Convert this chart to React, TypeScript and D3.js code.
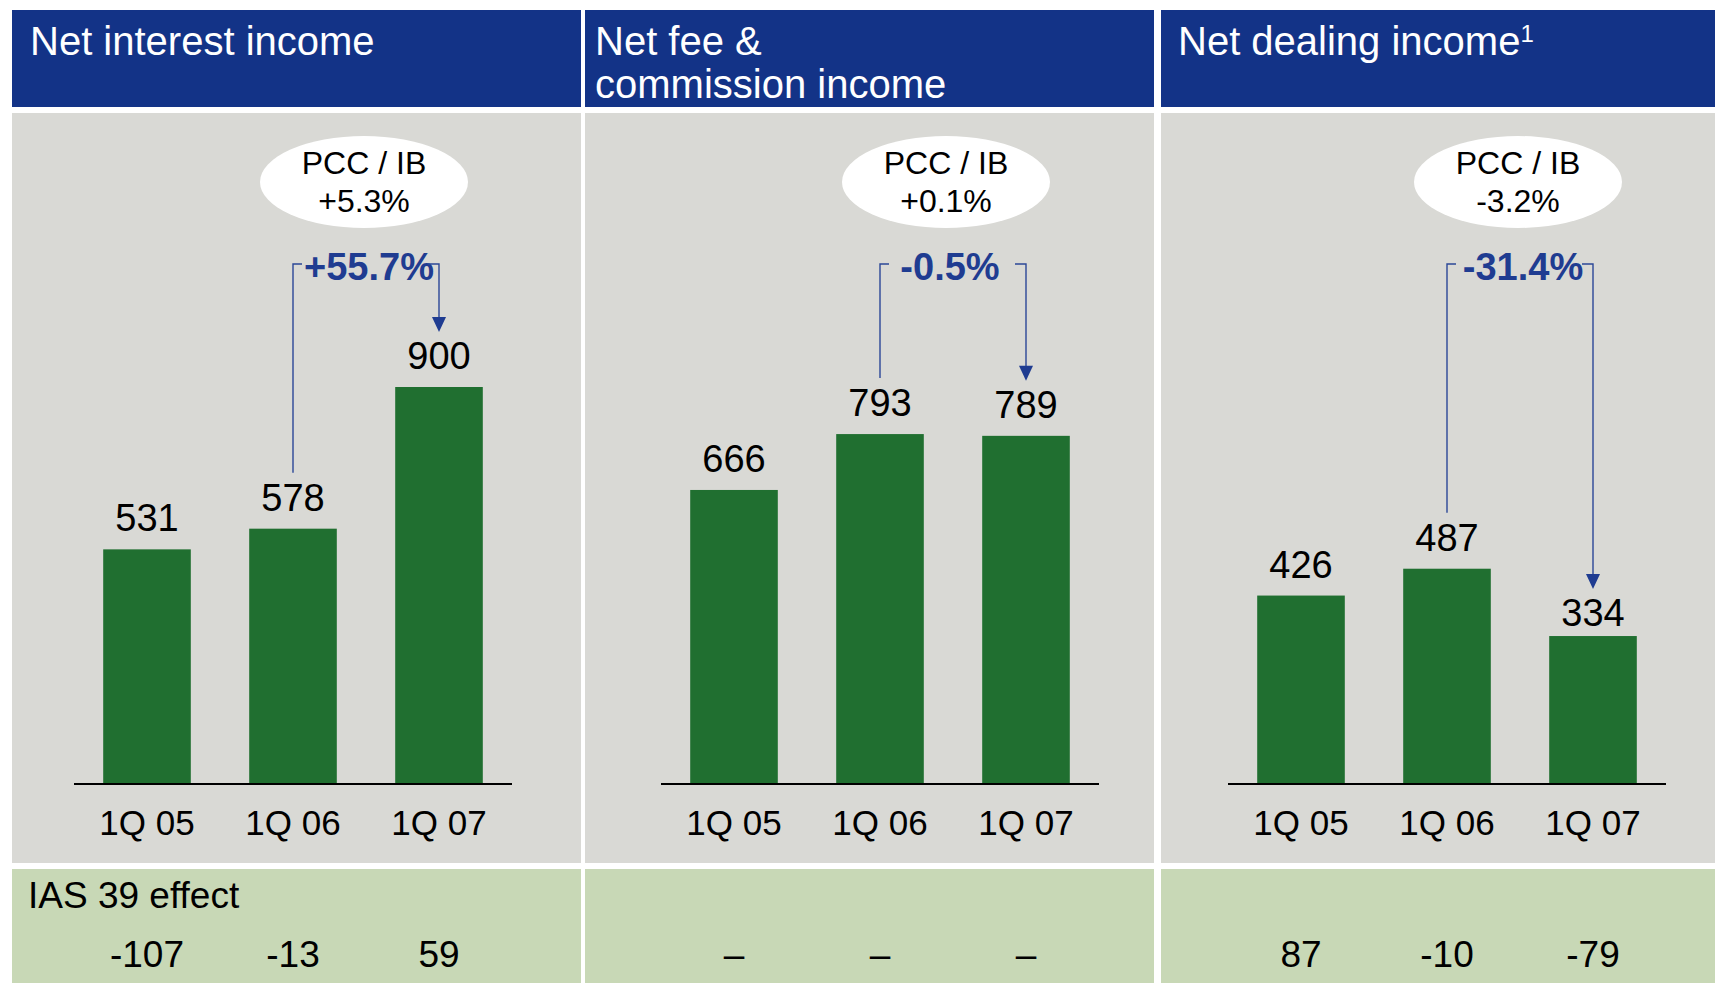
import React from "react";
import * as d3 from "d3";

// ---------- data ----------
const categories = ["1Q 05", "1Q 06", "1Q 07"];
const netInterestIncome = [531, 578, 900];
const netFeeCommissionIncome = [666, 793, 789];
const netDealingIncome = [426, 487, 334];
const panelTitles = [["Net interest income"], ["Net fee &", "commission income"], ["Net dealing income"]];
const titleFootnotes = ["", "", "1"];
const pccIbChanges = ["+5.3%", "+0.1%", "-3.2%"];
const yoyGrowth = ["+55.7%", "-0.5%", "-31.4%"];
const ias39Label = "IAS 39 effect";
const ias39Interest: (number | null)[] = [-107, -13, 59];
const ias39Fee: (number | null)[] = [null, null, null];
const ias39Dealing: (number | null)[] = [87, -10, -79];
const growthFrom = "1Q 06";
const growthTo = "1Q 07";

const seriesList = [netInterestIncome, netFeeCommissionIncome, netDealingIncome];
const ias39List = [ias39Interest, ias39Fee, ias39Dealing];

// ---------- layout ----------
const W = 1715;
const H = 983;
const panelX = [12, 585, 1161];
const panelW = 569;
const headerTop = 10;
const headerBottom = 107;
const bodyTop = 113;
const bodyBottom = 863;
const footTop = 869;
const axisX0 = [74, 661, 1228];
const axisLen = 438;
const baseY = 783;
const titleX = [30, 595, 1178];
const bubbleNudge = [-2, -7, -2];
const growthNudge = [3, -3, 3];

const C = {
  header: "#133387",
  body: "#D9D9D5",
  foot: "#C8D8B6",
  bar: "#206F30",
  accent: "#1F3C91",
  line: "#2B4797",
};
const FONT = "Arial, 'Liberation Sans', Helvetica, sans-serif";

const y = d3.scaleLinear().domain([0, 1000]).range([baseY, baseY - 440]);

function Panel({ i }: { i: number }) {
  const values = seriesList[i];
  const x = d3
    .scaleBand<string>()
    .domain(categories)
    .range([axisX0[i], axisX0[i] + axisLen])
    .paddingInner(0.4)
    .paddingOuter(0.2);
  const cx = (c: string) => (x(c) as number) + x.bandwidth() / 2;
  const left = panelX[i];
  const right = Math.min(left + panelW, W);
  const labelGap = (k: number) => (i === 2 && k === 2 ? 10 : 18);
  const labelBase = (k: number) => y(values[k]) - labelGap(k);
  const capH = 27;

  const fromIdx = categories.indexOf(growthFrom);
  const toIdx = categories.indexOf(growthTo);
  const xL = cx(growthFrom);
  const xR = cx(growthTo);
  const mid = (xL + xR) / 2;
  const bracketY = 264;
  const leftEnd = labelBase(fromIdx) - capH - 11;
  const tipY = labelBase(toIdx) - capH - 10;
  const bx = mid + bubbleNudge[i];

  return (
    <g>
      {/* header */}
      <rect x={left} y={headerTop} width={right - left} height={headerBottom - headerTop} fill={C.header} />
      <text x={titleX[i]} y={55} fill="#fff" fontSize={40} fontFamily={FONT}>
        {panelTitles[i].map((t, k) => (
          <tspan key={k} x={titleX[i]} dy={k === 0 ? 0 : 43}>
            {t}
          </tspan>
        ))}
        {titleFootnotes[i] && (
          <tspan fontSize={24} dy={-13}>
            {titleFootnotes[i]}
          </tspan>
        )}
      </text>
      {/* body */}
      <rect x={left} y={bodyTop} width={right - left} height={bodyBottom - bodyTop} fill={C.body} />
      <rect x={left} y={footTop} width={right - left} height={H - footTop} fill={C.foot} />

      {/* bars */}
      {values.map((v, k) => (
        <rect
          key={k}
          x={x(categories[k])}
          y={y(v)}
          width={x.bandwidth()}
          height={baseY - y(v)}
          fill={C.bar}
        />
      ))}
      <line x1={axisX0[i]} x2={axisX0[i] + axisLen} y1={baseY + 1} y2={baseY + 1} stroke="#000" strokeWidth={2} />
      {values.map((v, k) => (
        <text
          key={"v" + k}
          x={cx(categories[k])}
          y={labelBase(k)}
          textAnchor="middle"
          fontSize={38}
          fontFamily={FONT}
          fill="#000"
        >
          {v}
        </text>
      ))}
      {categories.map((c) => (
        <text key={c} x={cx(c)} y={835} textAnchor="middle" fontSize={35} fontFamily={FONT} fill="#000">
          {c}
        </text>
      ))}

      {/* PCC / IB bubble */}
      <ellipse cx={bx} cy={182} rx={104} ry={46} fill="#fff" />
      <text x={bx} y={174} textAnchor="middle" fontSize={32} fontFamily={FONT} fill="#000">
        PCC / IB
      </text>
      <text x={bx} y={212} textAnchor="middle" fontSize={32} fontFamily={FONT} fill="#000">
        {pccIbChanges[i]}
      </text>

      {/* growth bracket */}
      <text
        x={mid + growthNudge[i]}
        y={280}
        textAnchor="middle"
        fontSize={38}
        fontWeight="bold"
        fontFamily={FONT}
        fill={C.accent}
      >
        {yoyGrowth[i]}
      </text>
      <path
        d={`M${xL + 9},${bracketY} H${xL} V${leftEnd}`}
        fill="none"
        stroke={C.line}
        strokeWidth={1.4}
      />
      <path
        d={`M${xR - 11},${bracketY} H${xR} V${tipY - 14}`}
        fill="none"
        stroke={C.line}
        strokeWidth={1.4}
      />
      <path d={`M${xR - 7},${tipY - 15} L${xR + 7},${tipY - 15} L${xR},${tipY} Z`} fill={C.accent} />

      {/* IAS 39 */}
      {i === 0 && (
        <text x={28} y={908} fontSize={37} fontFamily={FONT} fill="#000">
          {ias39Label}
        </text>
      )}
      {ias39List[i].map((v, k) => (
        <text
          key={"ias" + k}
          x={cx(categories[k])}
          y={967}
          textAnchor="middle"
          fontSize={37}
          fontFamily={FONT}
          fill="#000"
        >
          {v === null ? "–" : String(v)}
        </text>
      ))}
    </g>
  );
}

export default function App() {
  return (
    <svg
      width={W}
      height={H}
      viewBox={`0 0 ${W} ${H}`}
      style={{ position: "absolute", left: 0, top: 0, display: "block", background: "#fff" }}
    >
      <rect x={0} y={0} width={W} height={H} fill="#fff" />
      {[0, 1, 2].map((i) => (
        <Panel key={i} i={i} />
      ))}
    </svg>
  );
}
